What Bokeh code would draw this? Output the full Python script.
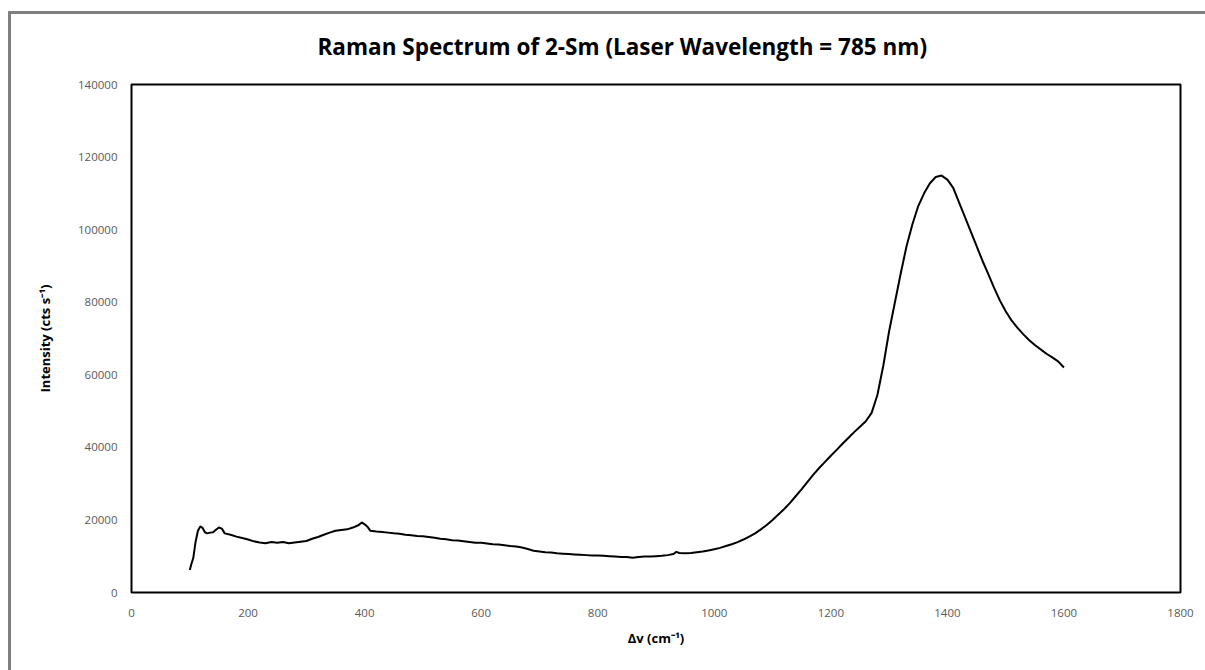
from bokeh.plotting import figure
from bokeh.models import FixedTicker, NumeralTickFormatter
from bokeh.embed import file_html
from bokeh.resources import INLINE

raman_shift = [100, 103, 106, 110, 114, 118, 122, 126, 130, 135, 140, 145, 150, 155, 160,
               170, 180, 190, 200, 210, 220, 230, 240, 250, 260, 270, 280, 290, 300,
               310, 320, 330, 340, 350, 360, 370, 380, 390, 395, 400, 405, 410,
               420, 430, 440, 450, 460, 470, 480, 490, 500, 510, 520, 530, 540, 550,
               560, 570, 580, 590, 600, 610, 620, 630, 640, 650, 660, 670, 680, 690,
               700, 710, 720, 730, 740, 750, 760, 770, 780, 790, 800, 810, 820, 830,
               840, 850, 860, 870, 880, 890, 900, 910, 920, 930, 935, 940, 950, 960,
               970, 980, 990, 1000, 1010, 1020, 1030, 1040, 1050, 1060, 1070, 1080,
               1090, 1100, 1110, 1120, 1130, 1140, 1150, 1160, 1170, 1180, 1190, 1200,
               1210, 1220, 1230, 1240, 1250, 1260, 1270, 1280, 1290, 1300, 1310, 1320,
               1330, 1340, 1350, 1360, 1370, 1380, 1390, 1400, 1410, 1420, 1430, 1440,
               1450, 1460, 1470, 1480, 1490, 1500, 1510, 1520, 1530, 1540, 1550, 1560,
               1570, 1580, 1590, 1600]
intensity = [6200, 8000, 9500, 14000, 17000, 18200, 17800, 16600, 16300, 16500, 16600, 17300, 17900, 17600, 16300,
             15900, 15400, 15000, 14600, 14100, 13800, 13600, 13900, 13700, 13900, 13600, 13800, 14000, 14200,
             14800, 15300, 15900, 16500, 17000, 17200, 17400, 17900, 18600, 19300, 18800, 18100, 17000,
             16800, 16700, 16500, 16300, 16200, 15900, 15800, 15600, 15500, 15300, 15100, 14800, 14700, 14400,
             14300, 14100, 13900, 13700, 13700, 13500, 13300, 13200, 13000, 12800, 12700, 12400, 12000, 11500,
             11300, 11100, 11000, 10800, 10700, 10600, 10500, 10400, 10300, 10200, 10200, 10100, 10000, 9900,
             9800, 9800, 9600, 9800, 9900, 9900, 10000, 10100, 10300, 10600, 11200, 10900, 10800, 10900,
             11100, 11300, 11600, 11900, 12300, 12800, 13300, 13900, 14600, 15400, 16300, 17400,
             18600, 20000, 21500, 23000, 24700, 26600, 28500, 30500, 32500, 34300, 36000, 37700,
             39300, 41000, 42600, 44200, 45700, 47200, 49500, 54500, 62500, 72000, 80000, 88000,
             95500, 101500, 106500, 110000, 112800, 114500, 114900, 113800, 111500, 107500, 103500, 99500,
             95500, 91500, 87800, 84000, 80500, 77500, 75000, 73000, 71200, 69600, 68200, 67000,
             65800, 64800, 63700, 62000]

x_ticks = [0, 200, 400, 600, 800, 1000, 1200, 1400, 1600, 1800]
y_ticks = [0, 20000, 40000, 60000, 80000, 100000, 120000, 140000]

p = figure(width=1205, height=670, output_backend="svg", toolbar_location=None,
           x_range=(0, 1800), y_range=(0, 140000),
           min_border_left=131, min_border_right=25, min_border_top=84, min_border_bottom=78,
           title="Raman Spectrum of 2-Sm (Laser Wavelength = 785 nm)")
p.border_fill_color = None
p.background_fill_color = "white"
p.styles = {"background-color": "#ffffff",
            "box-shadow": ("inset 0px 11px 0px 0px #ffffff, inset 8px 0px 0px 0px #ffffff, "
                           "inset 0px 14px 0px 0px #7f7f7f, inset 11px 0px 0px 0px #7f7f7f")}

p.line(raman_shift, intensity, line_color="black", line_width=2)

p.title.align = "left"
p.title.offset = 186
p.title.standoff = 46
p.title.text_font = "Open Sans"
p.title.text_font_size = "22.5px"
p.title.text_font_style = "bold"
p.title.text_color = "#000000"

p.xgrid.visible = False
p.ygrid.visible = False
p.outline_line_color = "black"
p.outline_line_width = 2

for ax in (p.xaxis, p.yaxis):
    ax.axis_line_color = None
    ax.major_tick_line_color = None
    ax.minor_tick_line_color = None
    ax.major_label_text_font = "Open Sans"
    ax.major_label_text_font_size = "11.5px"
    ax.major_label_text_color = "#595959"
    ax.axis_label_text_font = "Open Sans"
    ax.axis_label_text_font_size = "13px"
    ax.axis_label_text_font_style = "bold"
    ax.axis_label_text_color = "#000000"

p.xaxis.ticker = FixedTicker(ticks=x_ticks)
p.yaxis.ticker = FixedTicker(ticks=y_ticks)
p.yaxis.formatter = NumeralTickFormatter(format="0")
p.xaxis.formatter = NumeralTickFormatter(format="0")
p.xaxis.major_label_standoff = 10
p.yaxis.major_label_standoff = 8
p.xaxis.axis_label = "Δv (cm⁻¹)"
p.yaxis.axis_label = "Intensity (cts s⁻¹)"
p.xaxis.axis_label_standoff = 9
p.yaxis.axis_label_standoff = 21

open("out.html", "w").write(file_html(p, INLINE))
